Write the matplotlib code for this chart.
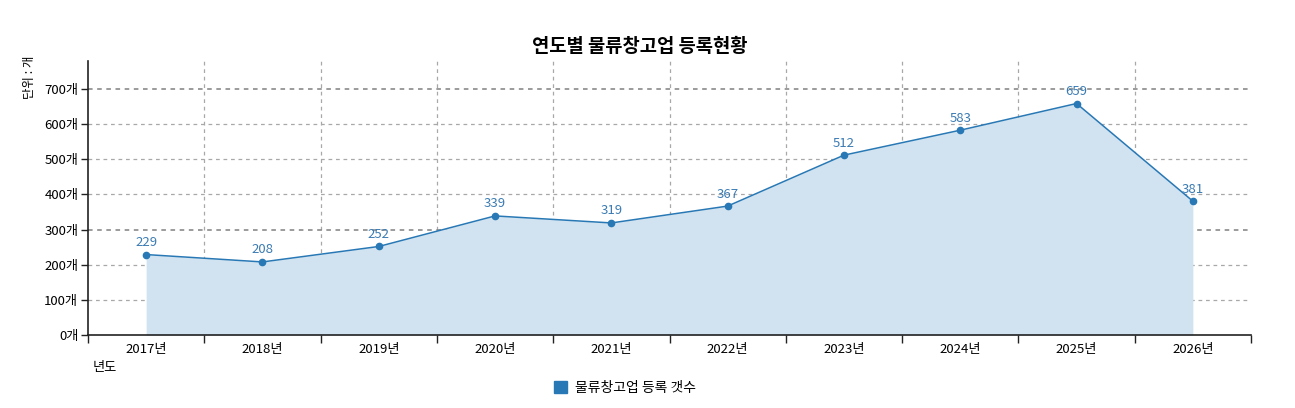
import numpy as np
import matplotlib
matplotlib.use("Agg")
import matplotlib.pyplot as plt
from matplotlib.patches import Patch

plt.rcParams['font.family'] = ['Noto Sans CJK KR', 'DejaVu Sans']

# --- Data ---
years = ['2017년', '2018년', '2019년', '2020년', '2021년',
         '2022년', '2023년', '2024년', '2025년', '2026년']
counts = [229, 208, 252, 339, 319, 367, 512, 583, 659, 381]
yticks = [0, 100, 200, 300, 400, 500, 600, 700]

line_color = '#2878b5'
fill_color = '#d1e3f0'

fig = plt.figure(figsize=(12.95, 4.08), dpi=100)
ax = fig.add_axes([88 / 1295, 1 - 335 / 408, (1251 - 88) / 1295, (335 - 61) / 408])

x = np.arange(len(years))
ax.fill_between(x, 0, counts, color=fill_color, lw=0, zorder=1)
ax.plot(x, counts, color=line_color, lw=1.1, marker='o', ms=4.5, zorder=3)
for xi, v in zip(x, counts):
    ax.annotate(str(v), (xi, v), xytext=(0, 4), textcoords='offset points',
                ha='center', va='bottom', fontsize=9.5, color='#3b7bb3', zorder=4)

ax.set_xlim(-0.5, len(years) - 0.5)
ax.set_ylim(0, 780)

# band ticks at boundaries, labels at centres
ax.set_xticks(np.arange(len(years) + 1) - 0.5)
ax.set_xticklabels([])
ax.set_xticks(x, minor=True)
ax.set_xticklabels(years, minor=True, fontsize=9.5)
ax.tick_params(axis='x', which='major', length=6, width=1, color='#222222')
ax.tick_params(axis='x', which='minor', length=0, pad=6)

ax.set_yticks(yticks)
ax.set_yticklabels([f'{v}개' for v in yticks], fontsize=9.5)
ax.tick_params(axis='y', length=5, width=1, color='#222222', pad=2)

# grids
for b in (np.arange(1, len(years)) - 0.5):
    ax.axvline(b, color='#a8a8a8', lw=0.9, ls=(0, (3, 3)), zorder=0.5)
for v in yticks[1:]:
    dark = v in (300, 700)
    ax.axhline(v, color='#808080' if dark else '#a8a8a8', lw=1.1 if dark else 0.9,
               ls=(0, (3, 3)), zorder=0.5)

for s in ('top', 'right'):
    ax.spines[s].set_visible(False)
ax.spines['left'].set_color('#222222')
ax.spines['bottom'].set_color('#222222')
ax.spines['left'].set_linewidth(1.2)
ax.spines['bottom'].set_linewidth(1.2)

fig.text(640 / 1295, 1 - 46 / 408, '연도별 물류창고업 등록현황', ha='center', va='center',
         fontsize=13.5, fontweight='bold')
fig.text(30 / 1295, 1 - 77 / 408, '단위 : 개', rotation=90, ha='center', va='center',
         fontsize=9)
fig.text(105 / 1295, 1 - 367 / 408, '년도', ha='center', va='center', fontsize=9.5)

fig.legend(handles=[Patch(color=line_color, label='물류창고업 등록 갯수')],
           loc='center', bbox_to_anchor=(625 / 1295, 1 - 388 / 408), frameon=False,
           fontsize=10, handlelength=0.9, handleheight=0.9, handletextpad=0.6)

fig.savefig('out.png', dpi=100)
